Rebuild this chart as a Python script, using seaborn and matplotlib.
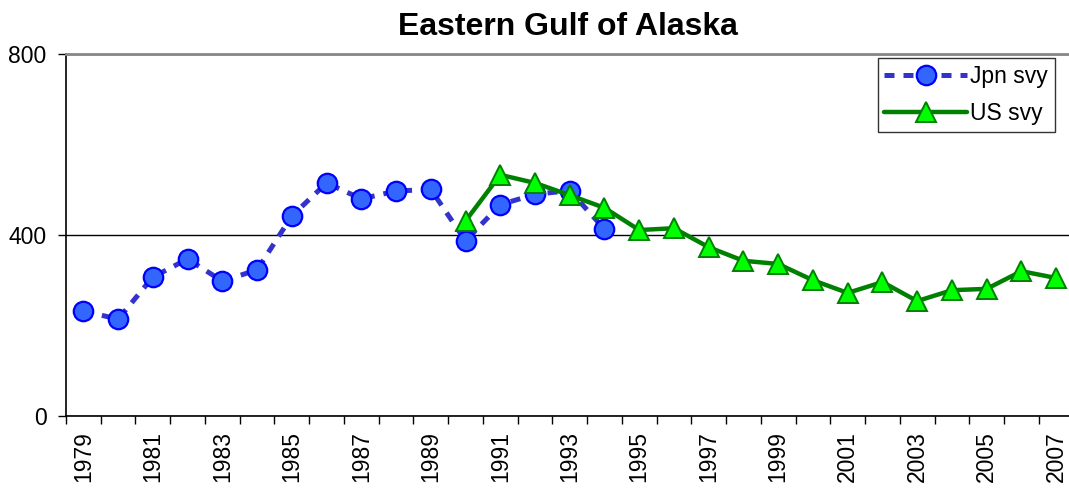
import matplotlib
matplotlib.use("Agg")
import matplotlib.pyplot as plt
import matplotlib.ticker as mticker
import seaborn as sns
import pandas as pd

# Survey index values
JPN_YEARS = list(range(1979, 1995))
JPN_VALUES = [232, 214, 307, 347, 298, 323, 442, 515, 480, 497, 501, 387, 467, 490, 498, 413]

US_YEARS = list(range(1990, 2008))
US_VALUES = [431, 533, 515, 488, 460, 411, 415, 373, 343, 336, 300, 272, 296, 254, 278, 281, 320, 305]

ALL_YEARS = list(range(1979, 2008))
Y_TICKS = [0, 400, 800]

sns.set_theme(style="white")
plt.rcParams["font.family"] = ["Liberation Sans", "DejaVu Sans"]
plt.rcParams["text.color"] = "black"
plt.rcParams["xtick.color"] = "black"
plt.rcParams["ytick.color"] = "black"

jpn = pd.DataFrame({"year": JPN_YEARS, "value": JPN_VALUES})
us = pd.DataFrame({"year": US_YEARS, "value": US_VALUES})

fig = plt.figure(figsize=(10.69, 4.90), dpi=100)
# plot area runs a few pixels past the right edge, as in the reference
ax = fig.add_axes([66 / 1069, 1 - 416 / 490, 1007.5 / 1069, (416 - 54) / 490])

sns.lineplot(data=jpn, x="year", y="value", ax=ax, color="#3333CC", lw=3.6,
             marker="o", markersize=14, markerfacecolor="#3366FF",
             markeredgecolor="#0000FF", markeredgewidth=1.6,
             label="Jpn svy")
ax.lines[-1].set_dashes((2, 1.8))
sns.lineplot(data=us, x="year", y="value", ax=ax, color="#008000", lw=3.2,
             marker="^", markersize=15, markerfacecolor="#00FF00",
             markeredgecolor="#008000", markeredgewidth=1.4,
             label="US svy")

ax.set_xlim(ALL_YEARS[0] - 0.5, ALL_YEARS[-1] + 0.5)
ax.set_ylim(Y_TICKS[0], Y_TICKS[-1])
ax.set_yticks(Y_TICKS)

# category style axis: ticks on boundaries, labels at centres
ax.xaxis.set_major_locator(mticker.FixedLocator([y - 0.5 for y in ALL_YEARS] + [ALL_YEARS[-1] + 0.5]))
ax.xaxis.set_major_formatter(mticker.NullFormatter())
ax.xaxis.set_minor_locator(mticker.FixedLocator(ALL_YEARS[::2]))
ax.xaxis.set_minor_formatter(mticker.FixedFormatter([str(y) for y in ALL_YEARS[::2]]))
ax.tick_params(axis="x", which="major", direction="out", length=6, width=1, color="black", bottom=True)
ax.tick_params(axis="x", which="minor", length=0, labelsize=16.5, labelrotation=90, pad=11)
ax.tick_params(axis="y", direction="out", length=6, width=1, color="black", left=True, labelsize=16.5, pad=8)

ax.grid(axis="y", color="black", lw=1)
ax.set_axisbelow(True)
for side in ["left", "bottom"]:
    ax.spines[side].set_color("black")
    ax.spines[side].set_linewidth(1.2)
ax.spines["top"].set_color("#888888")
ax.spines["top"].set_linewidth(2)
ax.spines["right"].set_visible(False)

ax.set_xlabel("")
ax.set_ylabel("")
fig.suptitle("Eastern Gulf of Alaska", fontsize=23, fontweight="bold",
             x=(66 + 1003 / 2) / 1069, y=1 - 12 / 490, va="top")

leg = ax.legend(loc="upper right", bbox_to_anchor=(989 / 1007.5, 358 / 362), fontsize=16.5, frameon=True,
                fancybox=False, edgecolor="black", handlelength=3.6, handletextpad=0.15,
                borderpad=0.3, labelspacing=0.6, borderaxespad=0)
leg.get_frame().set_linewidth(1)

fig.savefig("out.png", dpi=100)
